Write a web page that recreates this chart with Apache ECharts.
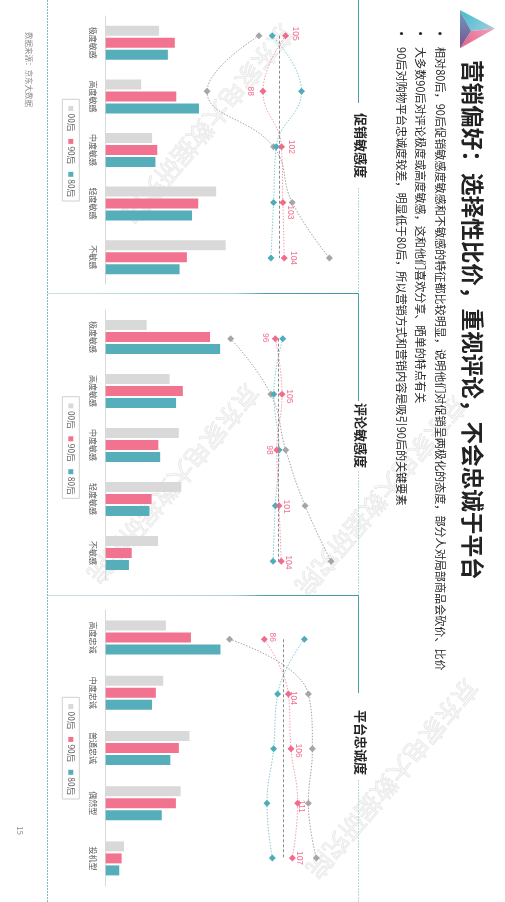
<!DOCTYPE html>
<html><head><meta charset="utf-8">
<script src="https://cdn.jsdelivr.net/npm/echarts@6/dist/echarts.min.js"></script>
<style>html,body{margin:0;padding:0;background:#fff}#c{width:505px;height:902px}</style>
</head><body><div id="c"></div>
<script>
// ---------------- data ----------------
const titleText = '营销偏好：选择性比价，重视评论，不会忠诚于平台';
const bulletTexts = [
  '相对80后，90后促销敏感度敏感和不敏感的特征都比较明显，说明他们对促销呈两极化的态度，部分人对局部商品会砍价、比价',
  '大多数90后对评论极度或高度敏感，这和他们喜欢分享、晒单的特点有关',
  '90后对购物平台忠诚度较差，明显低于80后，所以营销方式和营销内容是吸引90后的关键要素'
];
const sourceText = '数据来源：京东大数据';
const pageNo = '15';
const watermarkText = '京东家电大数据研究院';
const generations = ['00后', '90后', '80后'];
const sectionTitles = ['促销敏感度', '评论敏感度', '平台忠诚度'];

const promoCats = ['极度敏感', '高度敏感', '中度敏感', '轻度敏感', '不敏感'];
const reviewCats = ['极度敏感', '高度敏感', '中度敏感', '轻度敏感', '不敏感'];
const loyalCats = ['高度忠诚', '中度忠诚', '普通忠诚', '偶然型', '投机型'];

// share (%)
const promo00 = [14.6, 9.7, 12.7, 30.2, 32.8];
const promo90 = [18.9, 19.3, 14.1, 25.3, 22.2];
const promo80 = [17.0, 25.5, 13.6, 23.6, 20.2];
const review00 = [13.4, 20.9, 23.9, 24.7, 17.1];
const review90 = [34.1, 25.2, 17.2, 15.0, 8.5];
const review80 = [37.4, 23.0, 17.8, 14.3, 7.6];
const loyal00 = [20.4, 19.5, 28.4, 25.4, 6.2];
const loyal90 = [28.9, 17.0, 24.8, 23.8, 5.4];
const loyal80 = [38.9, 15.7, 21.9, 19.0, 4.6];

// index (TGI)
const promoIdx00 = [85, 46, 96, 110, 138];
const promoIdx90 = [105, 88, 102, 103, 104];
const promoIdx80 = [95, 117, 98, 96, 94];
const reviewIdx00 = [36, 90, 110, 136, 171];
const reviewIdx90 = [96, 105, 98, 101, 104];
const reviewIdx80 = [106, 94, 101, 96, 93];
const loyalIdx00 = [60, 119, 122, 119, 125];
const loyalIdx90 = [86, 104, 106, 111, 107];
const loyalIdx80 = [116, 96, 93, 88, 92];
const indexBase = 100;

// ---------------- layout / style ----------------
const FONT = '"Noto Sans CJK SC", "Noto Sans", sans-serif';
const C_GRAY = '#d9d9d9', C_PINK = '#f2738f', C_TEAL = '#56aebb';
const L_GRAY = '#a6a6a6', L_PINK = '#f06c8c', L_TEAL = '#4fadba';
const ROT = -Math.PI / 2;

const sections = [
  { cats: promoCats, bars: [promo00, promo90, promo80], idx: [promoIdx00, promoIdx90, promoIdx80],
    top: 16, h: 268, barMax: 40, barW: 146.3,
    lTop: 35.7, lH: 222.3, lLeft: 145.9, lW: 199.5, lMax: 150,
    legendY: 99.3, headY: 113, gapA: 103, gapB: 188, y0: 0, y1: 293.5,
    lbl: [[10, -2], [-13, 0], [9.5, 0], [7, 10], [9.5, 0]] },
  { cats: reviewCats, bars: [review00, review90, review80], idx: [reviewIdx00, reviewIdx90, reviewIdx80],
    top: 310, h: 270, barMax: 50, barW: 153,
    lTop: 338.7, lH: 222.6, lLeft: 203.9, lW: 148.8, lMax: 200,
    legendY: 396.7, headY: 403, gapA: 401, gapB: 471, y0: 293.5, y1: 595.5,
    lbl: [[-10, -1], [7, 2], [-7.5, 0], [7.5, 1], [7.5, 1]] },
  { cats: loyalCats, bars: [loyal00, loyal90, loyal80], idx: [loyalIdx00, loyalIdx90, loyalIdx80],
    top: 610, h: 276, barMax: 50, barW: 147.5,
    lTop: 639.3, lH: 218.7, lLeft: 149.4, lW: 200.4, lMax: 150,
    legendY: 697.3, headY: 710, gapA: 693, gapB: 780, y0: 595.5, y1: 902,
    lbl: [[8, -2], [5, 4], [7, 2], [4, 3], [7, 0]] }
];

const grid = [], xAxis = [], yAxis = [], series = [], graphic = [];
const barColors = [C_GRAY, C_PINK, C_TEAL];
const lineSymColors = [L_GRAY, L_PINK, L_TEAL];
const lineColors = ['#a3a3a3', '#f59bb0', '#86c9d2'];

// watermarks (drawn first, underneath)
const wmPos = [[289, 28], [254, 388], [462, 400], [473, 683]];
const wmAngle = -130 * Math.PI / 180;
wmPos.forEach(p => {
  graphic.push({ type: 'text', x: p[0], y: p[1], rotation: wmAngle, z: 0, silent: true,
    style: { text: watermarkText, font: '25px ' + FONT, fill: 'rgba(240,240,240,0.5)', stroke: '#e4e4e4', lineWidth: 0.7,
      align: 'left', verticalAlign: 'middle', textAlign: 'left', textVerticalAlign: 'middle' } });
});

sections.forEach((s, i) => {
  const gb = grid.length;
  grid.push({ left: 105.7, top: s.top, width: s.barW, height: s.h });
  xAxis.push({ gridIndex: gb, type: 'value', min: 0, max: s.barMax, show: false, splitLine: { show: false } });
  yAxis.push({ gridIndex: gb, type: 'category', inverse: true, data: s.cats,
    axisLine: { lineStyle: { color: '#d9d9d9', width: 1 } }, axisTick: { show: false },
    axisLabel: { rotate: -90, fontSize: 8, color: '#595959', margin: 9, fontFamily: FONT } });
  s.bars.forEach((vals, k) => {
    series.push({ type: 'bar', name: generations[k], xAxisIndex: gb, yAxisIndex: gb, data: vals,
      barWidth: 10, barGap: '20%', itemStyle: { color: barColors[k] }, silent: true });
  });
  const gl = grid.length;
  grid.push({ left: s.lLeft, top: s.lTop, width: s.lW, height: s.lH });
  xAxis.push({ gridIndex: gl, type: 'value', min: 0, max: s.lMax, show: false, splitLine: { show: false } });
  yAxis.push({ gridIndex: gl, type: 'category', inverse: true, boundaryGap: false, data: s.cats, show: false });
  [0, 2, 1].forEach(k => {
    const isPink = k === 1;
    const data = s.idx[k].map((v, j) => {
      if (!isPink) return v;
      const [sx, sy] = s.lbl[j];
      return { value: v, label: { offset: [sy, -sx] } };
    });
    const ser = { type: 'line', name: generations[k] + '指数', xAxisIndex: gl, yAxisIndex: gl, data,
      smooth: 0.45, symbol: 'diamond', symbolSize: 7, z: 3 + (isPink ? 1 : 0),
      itemStyle: { color: lineSymColors[k] },
      lineStyle: { color: lineColors[k], width: 1, type: [1.5, 1.5] },
      label: { show: isPink, position: 'inside', rotate: -90, align: 'center', verticalAlign: 'middle',
        fontSize: 8.5, color: '#f0718f', fontFamily: 'Liberation Sans, Arial, sans-serif' },
      silent: true };
    if (k === 0) {
      ser.markLine = { silent: true, symbol: 'none', label: { show: false },
        lineStyle: { color: '#8c8c8c', type: [3, 2], width: 1 }, data: [{ xAxis: indexBase }] };
    }
    series.push(ser);
  });

  // legend (rotated, drawn as graphics)
  graphic.push({ type: 'rect', shape: { x: 62.3, y: s.legendY, width: 17, height: 101.7 },
    style: { fill: '#fff', stroke: '#d0d0d0', lineWidth: 1 }, z: 10 });
  generations.forEach((g, k) => {
    const iy = s.legendY + 6.7 + k * 32.9;
    graphic.push({ type: 'rect', shape: { x: 68.3, y: iy, width: 5, height: 5 },
      style: { fill: barColors[k] }, z: 11 });
    graphic.push({ type: 'text', x: 70.8, y: iy + 7.5, rotation: ROT, z: 11,
      style: { text: g, font: '8.5px ' + FONT, fill: '#595959', align: 'left', verticalAlign: 'middle',
        textAlign: 'left', textVerticalAlign: 'middle' } });
  });

  // section heading
  graphic.push({ type: 'text', x: 361, y: s.headY, rotation: ROT, z: 11,
    style: { text: sectionTitles[i], font: 'bold 13px ' + FONT, fill: '#262626', align: 'left', verticalAlign: 'middle',
      textAlign: 'left', textVerticalAlign: 'middle' } });
  // right border with gap for heading
  graphic.push({ type: 'line', shape: { x1: 358.5, y1: s.y0, x2: 358.5, y2: s.gapA }, style: { stroke: '#4a9ea9', lineWidth: 1 }, z: 1 });
  graphic.push({ type: 'line', shape: { x1: 358.5, y1: s.gapB, x2: 358.5, y2: s.y1 }, style: { stroke: '#b3d9de', lineWidth: 1, lineDash: [2, 1] }, z: 1 });
  if (i < 2) {
    graphic.push({ type: 'line', shape: { x1: 47.5, y1: s.y1, x2: 358.5, y2: s.y1 },
      style: { lineWidth: 1.2, stroke: { type: 'linear', x: 0, y: 0, x2: 1, y2: 0,
        colorStops: [{ offset: 0, color: '#c9e3e6' }, { offset: 0.6, color: '#a9d2d8' }, { offset: 0.7, color: '#4a9ea9' }, { offset: 1, color: '#3f97a3' }] } }, z: 1 });
  }
});

// left border
graphic.push({ type: 'line', shape: { x1: 47.5, y1: 0, x2: 47.5, y2: 902 }, style: { stroke: '#7db9c2', lineWidth: 1, lineDash: [2, 1] }, z: 1 });

// logo triangle
const A = [460, 10], B = [495, 28.5], Cc = [460, 48.3], O = [471, 31];
graphic.push({ type: 'polygon', shape: { points: [A, B, O] }, z: 12,
  style: { fill: { type: 'linear', x: 0, y: 0, x2: 1, y2: 1, colorStops: [{ offset: 0, color: '#3fbccc' }, { offset: 1, color: '#a8cde0' }] } } });
graphic.push({ type: 'polygon', shape: { points: [B, Cc, O] }, z: 12,
  style: { fill: { type: 'linear', x: 1, y: 0, x2: 0, y2: 1, colorStops: [{ offset: 0, color: '#f3a5b8' }, { offset: 1, color: '#e0608a' }] } } });
graphic.push({ type: 'polygon', shape: { points: [A, O, Cc] }, z: 12,
  style: { fill: { type: 'linear', x: 0, y: 0, x2: 0, y2: 1, colorStops: [{ offset: 0, color: '#6d9fc0' }, { offset: 1, color: '#7a4f8f' }] } } });

// title
graphic.push({ type: 'text', x: 472.5, y: 60, rotation: ROT, z: 12,
  style: { text: titleText, font: 'bold 22.6px ' + FONT, fill: '#222', align: 'left', verticalAlign: 'middle',
    textAlign: 'left', textVerticalAlign: 'middle' } });
// bullets
const bulletX = [440, 420.5, 401.5];
bulletTexts.forEach((t, i) => {
  graphic.push({ type: 'circle', shape: { cx: bulletX[i], cy: 33.5, r: 1.6 }, style: { fill: '#262626' }, z: 12 });
  graphic.push({ type: 'text', x: bulletX[i], y: 47, rotation: ROT, z: 12,
    style: { text: t, font: '11.1px ' + FONT, fill: '#262626', align: 'left', verticalAlign: 'middle',
      textAlign: 'left', textVerticalAlign: 'middle' } });
});
// source + page number
graphic.push({ type: 'text', x: 28.5, y: 32, rotation: ROT, z: 12,
  style: { text: sourceText, font: '7.5px ' + FONT, fill: '#8c8c8c', align: 'left', verticalAlign: 'middle',
    textAlign: 'left', textVerticalAlign: 'middle' } });
graphic.push({ type: 'text', x: 20, y: 826, rotation: ROT, z: 12,
  style: { text: pageNo, font: '8px ' + FONT, fill: '#8c8c8c', align: 'left', verticalAlign: 'middle',
    textAlign: 'left', textVerticalAlign: 'middle' } });

const chart = echarts.init(document.getElementById('c'), null, { renderer: 'canvas' });
chart.setOption({
  animation: false,
  backgroundColor: '#fff',
  textStyle: { fontFamily: FONT },
  grid, xAxis, yAxis, series, graphic
});
</script>
</body></html>
